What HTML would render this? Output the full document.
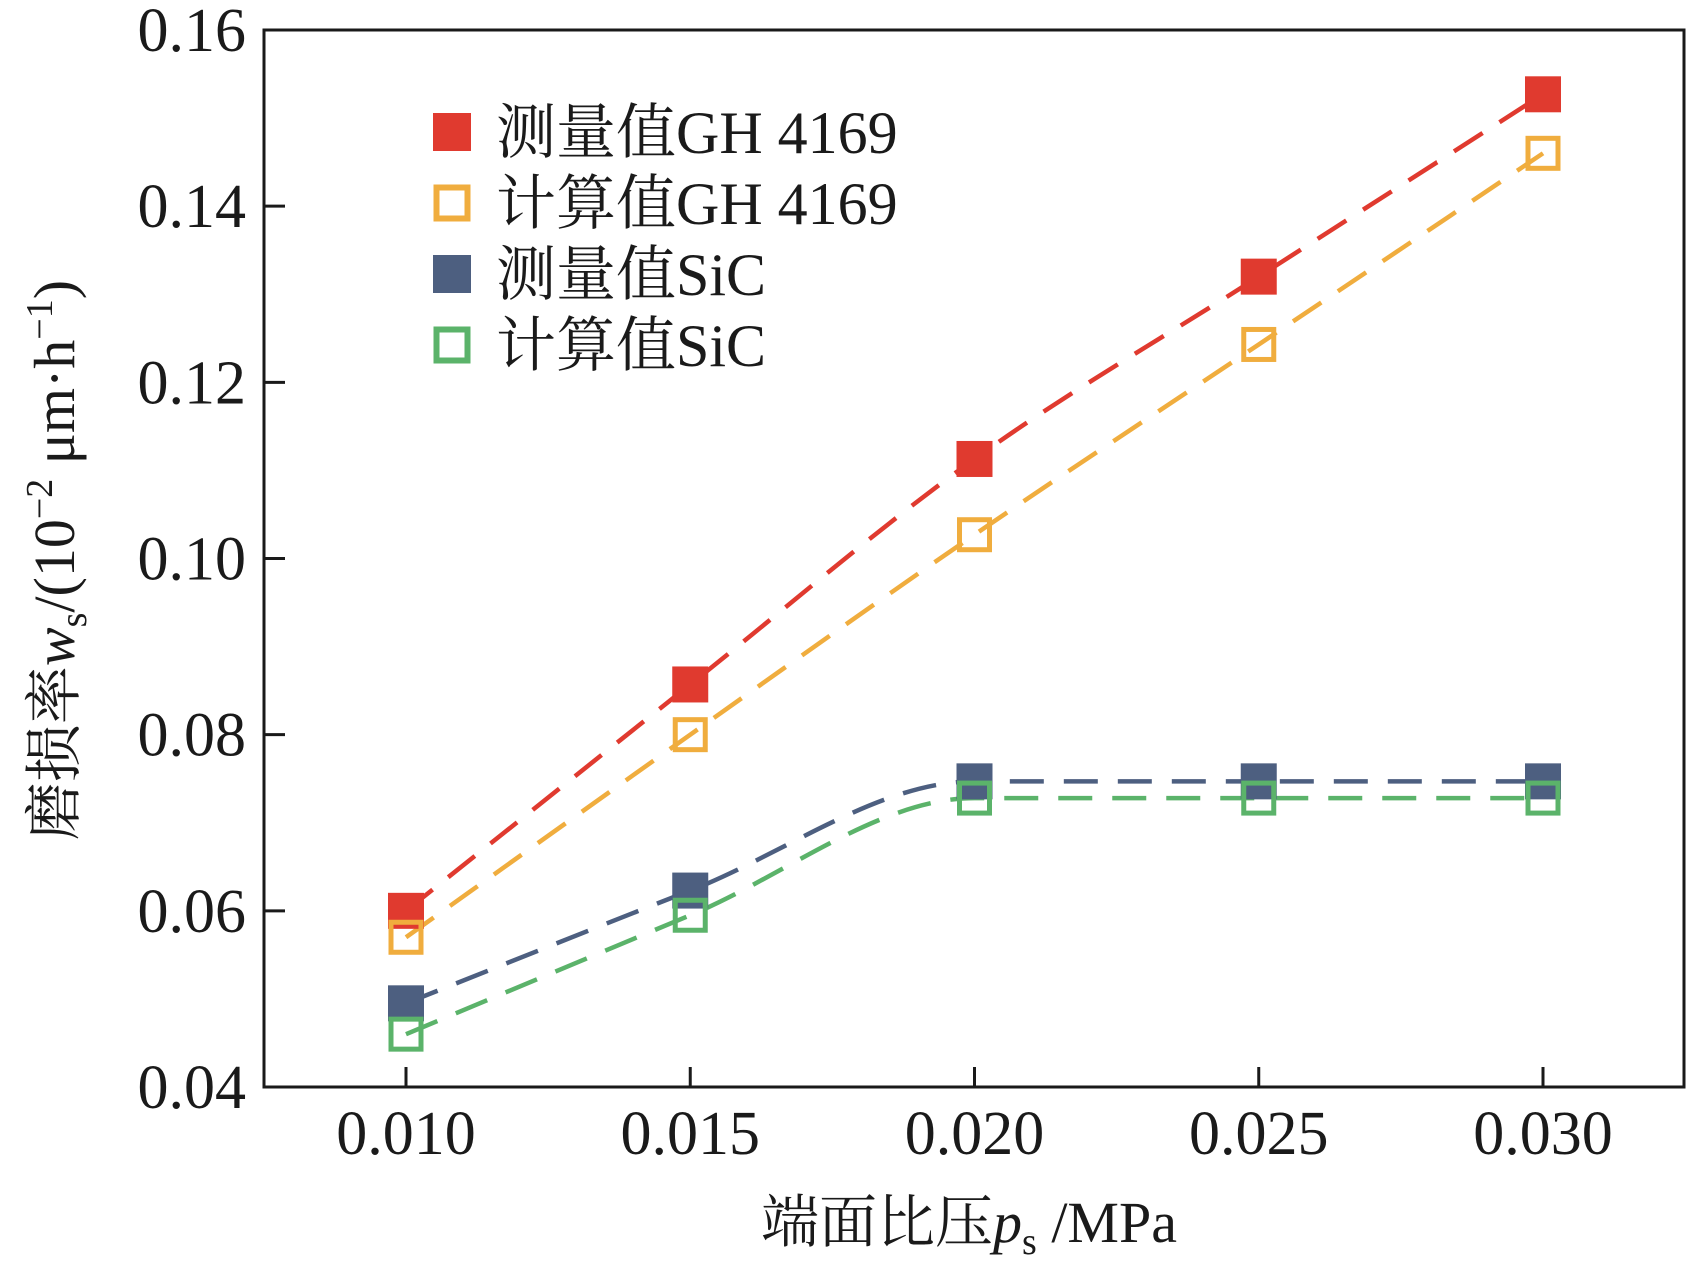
<!DOCTYPE html>
<html><head><meta charset="utf-8"><style>
html,body{margin:0;padding:0;background:#fff;}
svg text{font-family:"Liberation Serif","Noto Serif CJK SC",serif;fill:#1a1a1a;}
</style></head><body>
<svg id="chart" width="1688" height="1277" viewBox="0 0 1688 1277" xmlns="http://www.w3.org/2000/svg">
<g id="plot"></g>
</svg>
<script>
const xCats=[0.010,0.015,0.020,0.025,0.030];
const xTickLabels=["0.010","0.015","0.020","0.025","0.030"];
const yTicks=[0.04,0.06,0.08,0.10,0.12,0.14,0.16];
const yTickLabels=["0.04","0.06","0.08","0.10","0.12","0.14","0.16"];
const measGH=[0.060,0.0857,0.1113,0.132,0.1527];
const calcGH=[0.057,0.080,0.1027,0.1243,0.146];
const measSiC=[0.0495,0.0623,0.0747,0.0747,0.0747];
const calcSiC=[0.046,0.0595,0.0728,0.0728,0.0728];
const seriesNames=["测量值GH 4169","计算值GH 4169","测量值SiC","计算值SiC"];

const NS="http://www.w3.org/2000/svg";
const g=document.getElementById('plot');
const L=264,R=1684,T=30,B=1087;
const X=v=>406+(v-0.010)/0.020*(1543-406);
const Y=v=>B-(v-0.04)/0.12*(B-T);
function el(t,a,p){const e=document.createElementNS(NS,t);for(const k in a)e.setAttribute(k,a[k]);(p||g).appendChild(e);return e;}

const frame=el('rect',{x:L,y:T,width:R-L,height:B-T,fill:'none',stroke:'#1a1a1a','stroke-width':3});



yTicks.forEach((v,i)=>{
  const tk=el('line',{x1:L,x2:L+21,y1:Y(v),y2:Y(v),stroke:'#1a1a1a','stroke-width':3});
  
  
  const t=el('text',{x:246,y:Y(v)+21,'text-anchor':'end','font-size':62});
  t.textContent=yTickLabels[i];
  
  
});
xCats.forEach((v,i)=>{
  const tk=el('line',{x1:X(v),x2:X(v),y1:B,y2:B-20,stroke:'#1a1a1a','stroke-width':3});
  
  
  const t=el('text',{x:X(v),y:1154,'text-anchor':'middle','font-size':62});
  t.textContent=xTickLabels[i];
  
  
});

function smoothPath(vals){
  const p=vals.map((v,i)=>[X(xCats[i]),Y(v)]);
  const n=p.length,d=[],m=[];
  for(let i=0;i<n-1;i++)d.push((p[i+1][1]-p[i][1])/(p[i+1][0]-p[i][0]));
  m[0]=d[0];m[n-1]=d[n-2];
  for(let i=1;i<n-1;i++)m[i]=(d[i-1]*d[i]<=0)?0:(d[i-1]+d[i])/2;
  for(let i=0;i<n-1;i++){
    if(d[i]===0){m[i]=0;m[i+1]=0;continue;}
    const a=m[i]/d[i],b=m[i+1]/d[i],s=a*a+b*b;
    if(s>9){const t=3/Math.sqrt(s);m[i]=t*a*d[i];m[i+1]=t*b*d[i];}
  }
  let s='M'+p[0][0]+','+p[0][1];
  for(let i=0;i<n-1;i++){
    const h=(p[i+1][0]-p[i][0])/3;
    s+=' C'+(p[i][0]+h)+','+(p[i][1]+m[i]*h)+' '+(p[i+1][0]-h)+','+(p[i+1][1]-m[i+1]*h)+' '+p[i+1][0]+','+p[i+1][1];
  }
  return s;
}
const defs=[
 {vals:measGH,color:'#E03A2F',fill:true,name:'measured-gh4169'},
 {vals:calcGH,color:'#F0AD3E',fill:false,name:'calculated-gh4169'},
 {vals:measSiC,color:'#4D5F80',fill:true,name:'measured-sic'},
 {vals:calcSiC,color:'#5BB36A',fill:false,name:'calculated-sic'}
];
defs.forEach(s=>{
  const ln=el('path',{d:smoothPath(s.vals),fill:'none',stroke:s.color,'stroke-width':4.5,'stroke-dasharray':'34,20'});
  
  
});
defs.forEach(s=>{
  s.vals.forEach((v,i)=>{
    const sz=s.fill?36:30;
    const m=el('rect',{x:X(xCats[i])-sz/2,y:Y(v)-sz/2,width:sz,height:sz,fill:s.fill?s.color:'none',stroke:s.color,'stroke-width':s.fill?0:5});
    
    
  });
});

const legY=[132,203,274,345];
defs.forEach((s,i)=>{
  const sz=s.fill?38:31;
  const m=el('rect',{x:452-sz/2,y:legY[i]-sz/2,width:sz,height:sz,fill:s.fill?s.color:'none',stroke:s.color,'stroke-width':s.fill?0:6});
  
  
  const t=el('text',{x:496,y:legY[i]+21,'font-size':60});
  t.textContent=seriesNames[i];
  
  
});

const yt=el('text',{x:0,y:0,transform:'translate(74,560) rotate(-90)','text-anchor':'middle','font-size':58});
yt.innerHTML='磨损率<tspan font-style="italic">w</tspan><tspan font-size="38" dy="12">s</tspan><tspan dy="-12">/(10</tspan><tspan font-size="38" dy="-22">−2</tspan><tspan dy="22"> μm·h</tspan><tspan font-size="38" dy="-22">−1</tspan><tspan dy="22">)</tspan>';



const xt=el('text',{x:969,y:1242,'text-anchor':'middle','font-size':58});
xt.innerHTML='端面比压<tspan font-style="italic">p</tspan><tspan font-size="38" dy="12">s</tspan><tspan dy="-12"> /MPa</tspan>';


</script>
</body></html>
